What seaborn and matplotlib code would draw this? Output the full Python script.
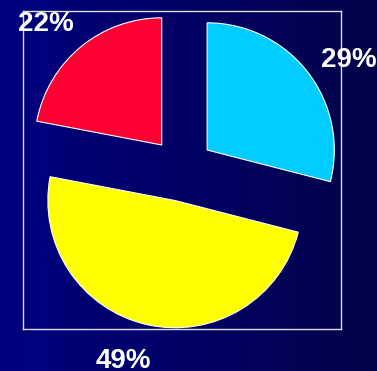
import numpy as np
import matplotlib
matplotlib.use("Agg")
import matplotlib.pyplot as plt
import seaborn as sns
from matplotlib.colors import LinearSegmentedColormap

# Shares, listed clockwise from twelve o'clock
categories = ["B", "C", "A"]
shares = [29, 49, 22]
slice_colors = ["#00CCFF", "#FFFF00", "#FF0033"]
labels = [f"{v}%" for v in shares]

# Where each percentage sits, in pie data units (x centre, baseline)
label_xy = [(1.310, 0.805), (-0.461, -1.557), (-1.068, 1.088)]

sns.set_style("white")
plt.rcParams["font.family"] = ["Liberation Sans", "DejaVu Sans"]

W, H = 377, 371
fig = plt.figure(figsize=(W / 100, H / 100), dpi=100)

# Horizontal navy gradient behind everything
bg = fig.add_axes([0, 0, 1, 1], zorder=0)
grad = np.linspace(0, 1, 256).reshape(1, -1)
cmap = LinearSegmentedColormap.from_list("navy", ["#000080", "#03034a"])
bg.imshow(grad, aspect="auto", cmap=cmap, extent=[0, 1, 0, 1])
bg.set_axis_off()

ax = fig.add_axes([23 / W, (H - 329) / H, 318 / W, 319 / H], zorder=1)
ax.patch.set_alpha(0)
wedges, texts = ax.pie(
    shares,
    labels=labels,
    colors=slice_colors,
    startangle=90,
    counterclock=False,
    explode=[0.25] * len(shares),
    wedgeprops=dict(edgecolor="white", linewidth=0.8),
    textprops=dict(color="white", fontsize=20, fontweight="bold"),
)
for t, (x, y) in zip(texts, label_xy):
    t.set_position((x, y))
    t.set_horizontalalignment("center")
    t.set_verticalalignment("baseline")
    t.set_clip_on(False)

ax.set_frame_on(True)
for s in ax.spines.values():
    s.set_visible(True)
    s.set_color("#DDDDDD")
    s.set_linewidth(1.0)

fig.savefig("out.png", dpi=100)
